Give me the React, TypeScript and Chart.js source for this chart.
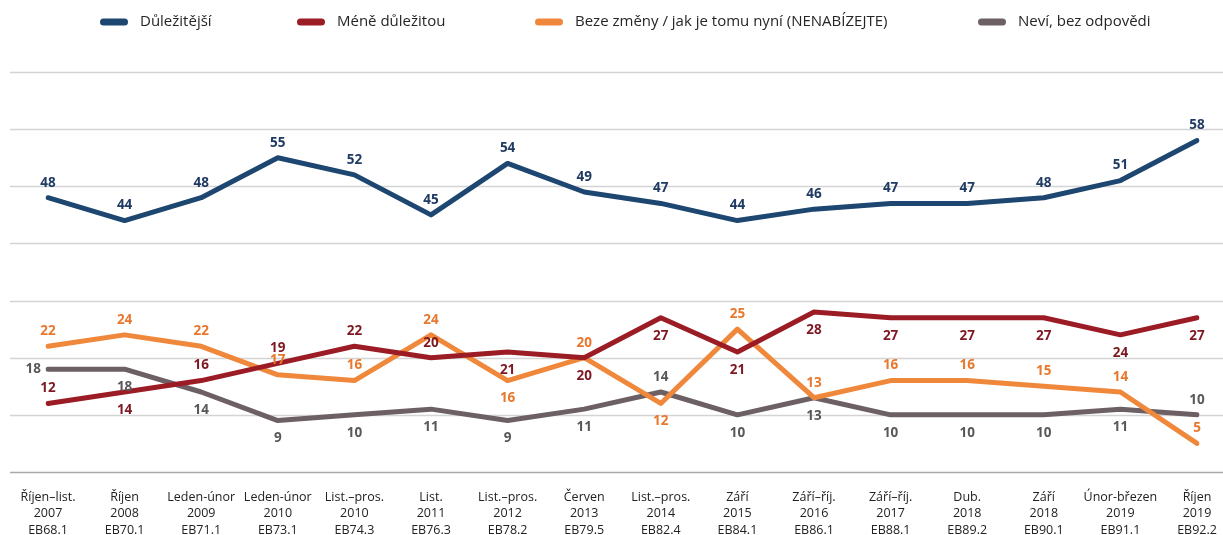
import React, { useEffect, useRef } from "react";
import { Chart, registerables } from "chart.js";

Chart.register(...registerables);

const periods = [
  "Říjen–list.", "Říjen", "Leden-únor", "Leden-únor", "List.–pros.", "List.", "List.–pros.", "Červen",
  "List.–pros.", "Září", "Září–říj.", "Září–říj.", "Dub.", "Září", "Únor-březen", "Říjen",
];
const years = ["2007", "2008", "2009", "2010", "2010", "2011", "2012", "2013", "2014", "2015", "2016", "2017", "2018", "2018", "2019", "2019"];
const waves = ["EB68.1", "EB70.1", "EB71.1", "EB73.1", "EB74.3", "EB76.3", "EB78.2", "EB79.5", "EB82.4", "EB84.1", "EB86.1", "EB88.1", "EB89.2", "EB90.1", "EB91.1", "EB92.2"];

const seriesNames = ["Důležitější", "Méně důležitou", "Beze změny / jak je tomu nyní (NENABÍZEJTE)", "Neví, bez odpovědi"];
const important = [48, 44, 48, 55, 52, 45, 54, 49, 47, 44, 46, 47, 47, 48, 51, 58];
const lessImportant = [12, 14, 16, 19, 22, 20, 21, 20, 27, 21, 28, 27, 27, 27, 24, 27];
const noChange = [22, 24, 22, 17, 16, 24, 16, 20, 12, 25, 13, 16, 16, 15, 14, 5];
const dontKnow = [18, 18, 14, 9, 10, 11, 9, 11, 14, 10, 13, 10, 10, 10, 11, 10];
const yTicks = [0, 10, 20, 30, 40, 50, 60, 70];

// styling: label placement per point (a = above, b = below, l = left)
const placements = ["aaaaaaaaaaaaaaaa", "abaaaabbbbbbbbbb", "aaaaaababaaaaaaa", "lbbbbbbbabbbbbba"];
const lineColors = ["#1d4670", "#9b1c24", "#f0883c", "#6c6065"];
const labelColors = ["#1f3a63", "#7e1822", "#e8782e", "#58585a"];
const legendX = [100, 297, 535, 978];

const FONT = '"Open Sans", "Noto Sans", sans-serif';

const gridPlugin = {
  id: "extGrid",
  beforeDatasetsDraw(chart: any) {
    const { ctx, scales } = chart;
    const y = scales.y;
    ctx.save();
    yTicks.forEach((v) => {
      const py = Math.round(y.getPixelForValue(v)) + 0.5;
      ctx.beginPath();
      ctx.moveTo(10, py);
      ctx.lineTo(chart.width, py);
      ctx.lineWidth = 1.6;
      ctx.strokeStyle = v === 0 ? "#a9a9a9" : "#d4d4d4";
      ctx.stroke();
    });
    ctx.restore();
  },
};

const labelPlugin = {
  id: "valueLabels",
  afterDatasetsDraw(chart: any) {
    const { ctx } = chart;
    ctx.save();
    ctx.font = `bold 13.5px ${FONT}`;
    ctx.textBaseline = "middle";
    chart.data.datasets.forEach((ds: any, di: number) => {
      const meta = chart.getDatasetMeta(di);
      meta.data.forEach((pt: any, i: number) => {
        const p = placements[di][i];
        let x = pt.x;
        let y = pt.y;
        ctx.textAlign = "center";
        if (p === "a") y -= 15;
        else if (p === "b") y += 18;
        else {
          ctx.textAlign = "right";
          x -= 7;
        }
        ctx.fillStyle = labelColors[di];
        ctx.fillText(String(ds.data[i]), x, y);
      });
    });
    ctx.restore();
  },
};

const legendPlugin = {
  id: "customLegend",
  afterDraw(chart: any) {
    const { ctx } = chart;
    ctx.save();
    ctx.font = `15px ${FONT}`;
    ctx.textBaseline = "middle";
    ctx.textAlign = "left";
    const cy = 22;
    seriesNames.forEach((name, i) => {
      const x = legendX[i];
      ctx.fillStyle = lineColors[i];
      ctx.beginPath();
      const w = 28, h = 7;
      (ctx as any).roundRect ? (ctx as any).roundRect(x, cy - h / 2, w, h, 3.5) : ctx.rect(x, cy - h / 2, w, h);
      ctx.fill();
      ctx.fillStyle = "#262626";
      ctx.fillText(name, x + 40, cy);
    });
    ctx.restore();
  },
};

export default function App() {
  const ref = useRef<HTMLCanvasElement | null>(null);
  useEffect(() => {
    document.body.style.margin = "0";
    document.body.style.overflow = "hidden";
    if (!ref.current) return;
    const series = [important, lessImportant, noChange, dontKnow];
    const chart = new Chart(ref.current, {
      type: "line",
      data: {
        labels: periods.map((p, i) => [p, years[i], waves[i]]),
        datasets: series.map((d, i) => ({
          label: seriesNames[i],
          data: d,
          borderColor: lineColors[i],
          backgroundColor: lineColors[i],
          borderWidth: 5,
          pointRadius: 0,
          tension: 0,
          borderJoinStyle: "round" as const,
          borderCapStyle: "round" as const,
        })),
      },
      options: {
        animation: false,
        responsive: true,
        maintainAspectRatio: false,
        layout: { padding: { top: 72, left: 48, right: 26, bottom: 0 } },
        plugins: { legend: { display: false }, tooltip: { enabled: false } },
        scales: {
          x: {
            offset: false,
            grid: { display: false, drawTicks: false },
            border: { display: false },
            afterFit(scale: any) {
              scale.height = 63;
              scale.paddingLeft = 0;
              scale.paddingRight = 0;
            },
            ticks: {
              autoSkip: false,
              maxRotation: 0,
              minRotation: 0,
              padding: 17,
              color: "#222",
              font: { family: FONT, size: 12.5, lineHeight: 1.32 },
            },
          },
          y: {
            display: false,
            min: 0,
            max: 70,
          },
        },
      },
      plugins: [gridPlugin, labelPlugin, legendPlugin],
    });
    return () => chart.destroy();
  }, []);
  return (
    <div style={{ position: "fixed", left: 0, top: 0, width: 1223, height: 535, background: "#fff" }}>
      <canvas ref={ref} />
    </div>
  );
}
